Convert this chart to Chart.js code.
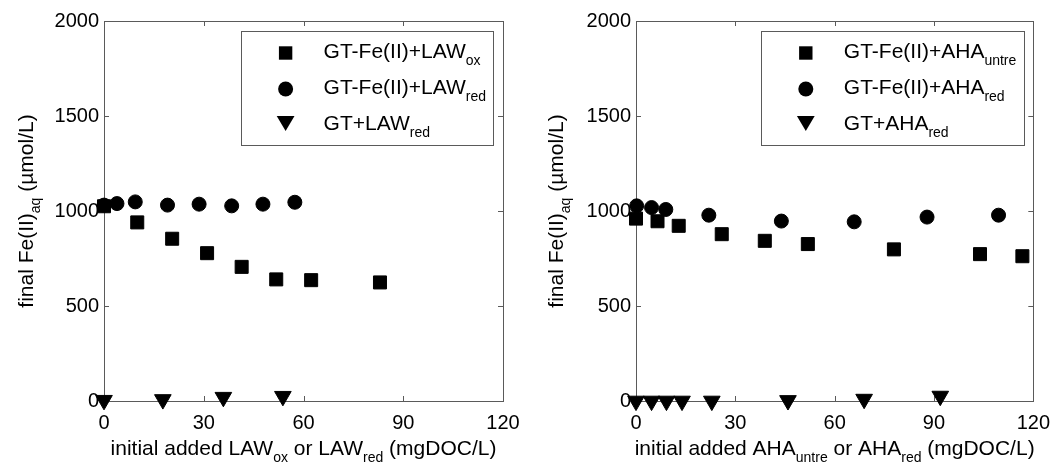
<!DOCTYPE html>
<html>
<head>
<meta charset="utf-8">
<script src="https://cdn.jsdelivr.net/npm/chart.js@4.4.0/dist/chart.umd.min.js"></script>
<style>
  body { margin: 0; background: #fff; }
  .panel { position: absolute; top: 0; width: 530px; height: 463px; }
</style>
</head>
<body>
<div class="panel" style="left:0"><canvas id="chartLAW" width="530" height="463"></canvas></div>
<div class="panel" style="left:530px"><canvas id="chartAHA" width="530" height="463"></canvas></div>
<script>
// --- LAW panel data ---
const lawOxX = [0, 10, 20.5, 31, 41.4, 51.8, 62.3, 83];
const lawOxY = [1025, 940, 854, 778, 706, 640, 636, 624];
const lawRedX = [0, 3.9, 9.4, 19.1, 28.6, 38.4, 47.8, 57.4];
const lawRedY = [1031, 1039, 1048, 1031, 1036, 1027, 1036, 1046];
const gtLawX = [0, 17.7, 35.9, 53.8];
const gtLawY = [4, 8, 20, 25];

// --- AHA panel data ---
const ahaUntreX = [0, 6.5, 12.9, 25.9, 38.9, 51.9, 77.9, 103.9, 116.7];
const ahaUntreY = [960, 946, 922, 878, 843, 826, 798, 773, 762];
const ahaRedX = [0.2, 4.7, 9, 22, 43.9, 65.9, 87.9, 109.5];
const ahaRedY = [1027, 1018, 1008, 978, 947, 943, 968, 978];
const gtAhaX = [0, 4.7, 9.2, 13.9, 22.9, 45.9, 68.9, 91.9];
const gtAhaY = [0, 0, 0, 0, 0, 3, 10, 26];

// axis ranges / ticks
const xTicks = [0, 30, 60, 90, 120];
const yTicks = [0, 500, 1000, 1500, 2000];

const FONT = '"Liberation Sans", Arial, sans-serif';
const FRAME = "#5a5a5a";

const pts = (xs, ys) => xs.map((x, i) => ({ x: x, y: ys[i] }));

// draw text with subscript parts: [[text, isSub], ...]
function richWidth(ctx, parts, size) {
    let w = 0;
    parts.forEach(([t, sub]) => {
        ctx.font = `${sub ? Math.round(size * 0.68) : size}px ${FONT}`;
        w += ctx.measureText(t).width;
    });
    return w;
}
function drawRich(ctx, parts, x, y, size) {
    ctx.textBaseline = "alphabetic";
    ctx.textAlign = "left";
    parts.forEach(([t, sub]) => {
        ctx.font = `${sub ? Math.round(size * 0.68) : size}px ${FONT}`;
        ctx.fillText(t, x, sub ? y + 7 : y);
        x += ctx.measureText(t).width;
    });
}

function marker(ctx, style, x, y) {
    ctx.save();
    ctx.fillStyle = "#000";
    ctx.beginPath();
    if (style === "rect") {
        ctx.rect(x - 6.7, y - 6.7, 13.4, 13.4);
    } else if (style === "circle") {
        ctx.arc(x, y, 7.5, 0, Math.PI * 2);
    } else {
        ctx.moveTo(x, y + 10);
        ctx.lineTo(x - 8.9, y - 5);
        ctx.lineTo(x + 8.9, y - 5);
        ctx.closePath();
    }
    ctx.fill();
    ctx.restore();
}

const framePlugin = {
    id: "frame",
    beforeDatasetsDraw(chart) {
        const { ctx, chartArea: a, scales } = chart;
        ctx.save();
        ctx.strokeStyle = FRAME;
        ctx.lineWidth = 1;
        ctx.strokeRect(Math.round(a.left) + 0.5, Math.round(a.top) + 0.5,
            Math.round(a.right - a.left), Math.round(a.bottom - a.top));
        ctx.beginPath();
        xTicks.slice(1, -1).forEach(v => {
            const px = Math.round(scales.x.getPixelForValue(v)) + 0.5;
            ctx.moveTo(px, a.bottom); ctx.lineTo(px, a.bottom - 5);
            ctx.moveTo(px, a.top); ctx.lineTo(px, a.top + 5);
        });
        yTicks.slice(1, -1).forEach(v => {
            const py = Math.round(scales.y.getPixelForValue(v)) + 0.5;
            ctx.moveTo(a.left, py); ctx.lineTo(a.left + 5, py);
            ctx.moveTo(a.right, py); ctx.lineTo(a.right - 5, py);
        });
        ctx.stroke();
        ctx.restore();
    },
    afterDraw(chart) {
        const { ctx, chartArea: a } = chart;
        const o = chart.options.plugins.frame;
        ctx.save();
        ctx.fillStyle = "#000";

        // x axis title
        const xw = richWidth(ctx, o.xTitle, 21);
        drawRich(ctx, o.xTitle, (a.left + a.right) / 2 - xw / 2, 455, 21);

        // y axis title
        ctx.save();
        ctx.translate(33, (a.top + a.bottom) / 2);
        ctx.rotate(-Math.PI / 2);
        const yw = richWidth(ctx, o.yTitle, 21);
        drawRich(ctx, o.yTitle, -yw / 2, 0, 21);
        ctx.restore();

        // legend box
        const tw = Math.max(...o.legend.map(l => richWidth(ctx, l.parts, 21)));
        const bw = 83 + tw + 7;
        const bx = a.right - 10 - bw;
        const by = a.top + 10;
        ctx.fillStyle = "#fff";
        ctx.fillRect(bx, by, bw, 114);
        ctx.strokeStyle = FRAME;
        ctx.lineWidth = 1;
        ctx.strokeRect(Math.round(bx) + 0.5, by + 0.5, Math.round(bw), 114);
        ctx.fillStyle = "#000";
        o.legend.forEach((l, i) => {
            const base = by + 27 + 36 * i;
            marker(ctx, l.style, bx + 45, base - 5 - (l.style === "triangle" ? 4 : 0));
            ctx.fillStyle = "#000";
            drawRich(ctx, l.parts, bx + 83, base, 21);
        });
        ctx.restore();
    }
};

function makeChart(id, series, area, xTitle) {
    const styles = [
        { pointStyle: "rect", pointRadius: 9.2, rotation: 0 },
        { pointStyle: "circle", pointRadius: 7, rotation: 0 },
        { pointStyle: "triangle", pointRadius: 9.6, rotation: 180 }
    ];
    const ctx = document.getElementById(id).getContext("2d");
    return new Chart(ctx, {
        type: "scatter",
        data: {
            datasets: series.map((s, i) => ({
                label: s.parts.map(p => p[0]).join(""),
                data: pts(s.x, s.y),
                pointStyle: styles[i].pointStyle,
                pointRadius: styles[i].pointRadius,
                pointRotation: styles[i].rotation,
                backgroundColor: "#000",
                borderColor: "#000",
                borderWidth: 1,
                clip: false
            }))
        },
        options: {
            responsive: false,
            animation: false,
            events: [],
            layout: { padding: { top: 21, right: 530 - area.right, left: 0, bottom: 0 } },
            scales: {
                x: {
                    type: "linear",
                    min: xTicks[0], max: xTicks[xTicks.length - 1],
                    grid: { display: false, drawTicks: false },
                    border: { display: false },
                    ticks: { stepSize: 30, padding: 10, color: "#000", font: { family: FONT, size: 20 },
                             callback: v => String(v) },
                    afterFit: sc => { sc.height = 62; }
                },
                y: {
                    type: "linear",
                    min: yTicks[0], max: yTicks[yTicks.length - 1],
                    grid: { display: false, drawTicks: false },
                    border: { display: false },
                    ticks: { stepSize: 500, padding: 5, color: "#000", font: { family: FONT, size: 20 },
                             callback: v => String(v) },
                    afterFit: sc => { sc.width = area.left; }
                }
            },
            plugins: {
                legend: { display: false },
                tooltip: { enabled: false },
                frame: {
                    xTitle: xTitle,
                    yTitle: [["final Fe(II)", false], ["aq", true], [" (\u00b5mol/L)", false]],
                    legend: series.map((s, i) => ({ parts: s.parts, style: styles[i].pointStyle }))
                }
            }
        },
        plugins: [framePlugin]
    });
}

makeChart("chartLAW", [
    { x: lawOxX, y: lawOxY, parts: [["GT-Fe(II)+LAW", false], ["ox", true]] },
    { x: lawRedX, y: lawRedY, parts: [["GT-Fe(II)+LAW", false], ["red", true]] },
    { x: gtLawX, y: gtLawY, parts: [["GT+LAW", false], ["red", true]] }
], { left: 104, right: 503 },
[["initial added LAW", false], ["ox", true], [" or LAW", false], ["red", true], [" (mgDOC/L)", false]]);

makeChart("chartAHA", [
    { x: ahaUntreX, y: ahaUntreY, parts: [["GT-Fe(II)+AHA", false], ["untre", true]] },
    { x: ahaRedX, y: ahaRedY, parts: [["GT-Fe(II)+AHA", false], ["red", true]] },
    { x: gtAhaX, y: gtAhaY, parts: [["GT+AHA", false], ["red", true]] }
], { left: 106, right: 506 },
[["initial added AHA", false], ["untre", true], [" or AHA", false], ["red", true], [" (mgDOC/L)", false]]);
</script>
</body>
</html>
